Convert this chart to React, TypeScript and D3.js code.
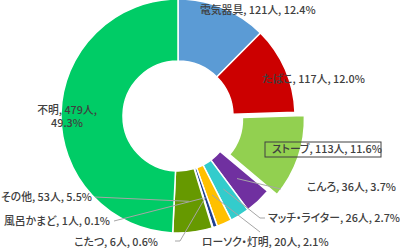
import React from "react";
import * as d3 from "d3";

const categories = ["電気器具", "たばこ", "ストーブ", "こんろ", "マッチ・ライター", "ローソク・灯明", "こたつ", "風呂かまど", "その他", "不明"];
const counts = [121, 117, 113, 36, 26, 20, 6, 1, 53, 479];
const percents = ["12.4%", "12.0%", "11.6%", "3.7%", "2.7%", "2.1%", "0.6%", "0.1%", "5.5%", "49.3%"];
const colors = ["#5b9bd5", "#cc0000", "#92d050", "#7030a0", "#33cccc", "#ffc000", "#1f3f8f", "#4a7fd0", "#669900", "#00cc66"];

// label layout (x, y center, anchor, leader end points)
const labelLayout: { x: number; y: number; anchor: string; lead?: [number, number][] }[] = [
  { x: 200, y: 10, anchor: "start" },
  { x: 262, y: 79, anchor: "start" },
  { x: 272, y: 149, anchor: "start" },
  { x: 307, y: 187, anchor: "start", lead: [[281, 189]] },
  { x: 268, y: 218, anchor: "start", lead: [[260, 218], [265, 218]] },
  { x: 202, y: 242, anchor: "start", lead: [[260, 232]] },
  { x: 158, y: 242, anchor: "end", lead: [[180, 241], [175, 241]] },
  { x: 110, y: 221, anchor: "end", lead: [[114, 221]] },
  { x: 92, y: 197, anchor: "end", lead: [[95, 197]] },
  { x: 67, y: 110, anchor: "middle" },
];

const W = 400, H = 248;
const cx = 178, cy = 116;
const rOuter = 117, rInner = 55;
const explodeIndex = 2;
const explode = 10;

export default function App() {
  const pie = d3.pie<number>().sort(null).value((d) => d);
  const arcs = pie(counts);
  const arc = d3.arc<d3.PieArcDatum<number>>().innerRadius(rInner).outerRadius(rOuter);
  const midArc = d3.arc<d3.PieArcDatum<number>>().innerRadius(86).outerRadius(86);
  const font = "'Noto Sans CJK JP', 'Noto Sans', sans-serif";
  const tStyle: React.CSSProperties = { fontFeatureSettings: '"palt"' };
  const fs = 10.8;
  return (
    <svg width={W} height={H} style={{ position: "absolute", left: 0, top: 0, background: "#fff" }}>
      <g transform={`translate(${cx},${cy})`}>
        {arcs.map((a, i) => {
          const mid = (a.startAngle + a.endAngle) / 2;
          const off = i === explodeIndex ? explode : 0;
          const dx = Math.sin(mid) * off, dy = -Math.cos(mid) * off;
          return (
            <path key={i} d={arc(a) || ""} fill={colors[i]} stroke="#fff" strokeWidth={1.5} transform={`translate(${dx},${dy})`} />
          );
        })}
      </g>
      {arcs.map((a, i) => {
        const L = labelLayout[i];
        if (!L.lead) return null;
        const [mx, my] = midArc.centroid(a);
        const pts = [[mx + cx, my + cy], ...L.lead];
        return (
          <polyline key={"l" + i} points={pts.map((p) => p.join(",")).join(" ")} fill="none" stroke="#a6a6a6" strokeWidth={1} />
        );
      })}
      {categories.map((c, i) => {
        const L = labelLayout[i];
        if (i === categories.length - 1) {
          return (
            <text key={"t" + i} x={L.x} y={L.y} textAnchor="middle" fontFamily={font} fontSize={fs} fontWeight={500} fill="#404040" style={tStyle}>
              <tspan x={L.x} dy="0.35em">{`${c}, ${counts[i]}人,`}</tspan>
              <tspan x={L.x} dy="1.2em">{percents[i]}</tspan>
            </text>
          );
        }
        return (
          <text key={"t" + i} x={L.x} y={L.y} dy="0.35em" textAnchor={L.anchor as any} fontFamily={font} fontSize={fs} fontWeight={500} fill="#404040" style={tStyle}>
            {`${c}, ${counts[i]}人, ${percents[i]}`}
          </text>
        );
      })}
      <rect x={265} y={142} width={116} height={15} fill="none" stroke="#404040" strokeWidth={1} />
    </svg>
  );
}
